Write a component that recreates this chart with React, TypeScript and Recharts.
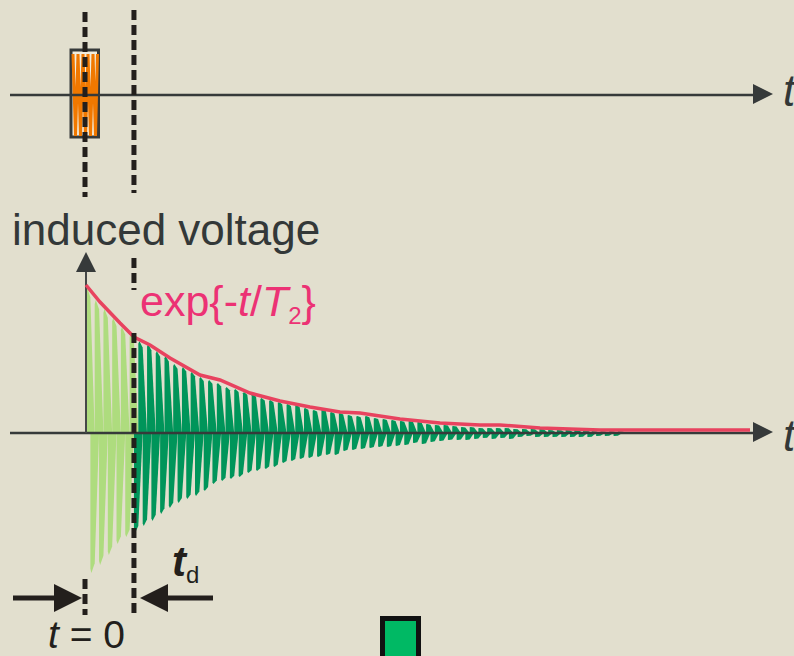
import { ComposedChart, XAxis, YAxis, Bar, Cell, Line, ReferenceLine, ReferenceArea, ReferenceDot } from "recharts";

// time in ms, voltages in arbitrary units
const sampleStep = 0.0436;
const delayIndex = 11; // t_d = 11 samples

// free induction decay, sampled peaks before and after the dead time t_d
const fidBeforeDelay = [146, -140, 133, -132, 124, -122, 115, -111, 106, -104, 99];
const fidAfterDelay = [
  -100, 92, -93, 89, -88, 82, -81, 77, -75, 69, -70, 66, -66, 61, -63, 56, -58, 53, -51, 50, -48,
  46, -46, 44, -44, 41, -40, 39, -38, 35, -36, 33, -34, 31, -30, 29, -28, 28, -26, 25, -25, 23, -24,
  24, -22, 21, -22, 20, -18, 18, -17, 17, -16, 17, -15, 15, -14, 14, -14, 13, -13, 12, -12, 12, -10,
  11, -11, 9, -9, 8, -8, 8, -7, 7, -7, 6, -7, 6, -6, 5, -5, 5, -6, 5, -5, 5, -6, 4, -4, 4, -3, 4, -4,
  4, -4, 3, -4, 3, -4, 3, -4, 3, -4, 3, -4, 2, -3, 2, -3, 2, -3, 2,
];

// exp{-t/T2} envelope
const envelopeTime = [0, 0.14, 0.34, 0.48, 0.64, 0.84, 1.14, 1.34, 1.64, 1.94, 2.24, 2.54, 2.74, 3.14, 3.54, 3.94, 4.14, 4.54, 5.14, 5.64, 6.64];
const envelopeValue = [148, 131, 110, 96, 88, 75, 58, 53, 40, 32, 26, 21, 20, 14, 10, 8, 8, 5, 3, 3, 3];

// RF pulse
const pulseTime = [-0.13, -0.105, -0.08, -0.055, -0.03, -0.005, 0.02, 0.045, 0.07, 0.095, 0.115];
const pulseValue = [41, -41, 41, -41, 41, -41, 41, -41, 41, -41, 41];

const tDelay = delayIndex * sampleStep;

const fidData = [...fidBeforeDelay, ...fidAfterDelay].map((v, i) => ({
  t: i * sampleStep,
  v,
  late: i >= delayIndex,
}));
const envelopeData = envelopeTime.map((t, i) => ({ t, v: envelopeValue[i] }));
const pulseData = pulseTime.map((t, i) => ({ t, v: pulseValue[i] }));

const INK = "#231f1c";
const AXIS = "#363a3a";
const LIGHT = "#aedc7e";
const DARK = "#00955a";
const FONT = "'Liberation Sans', Arial, sans-serif";

// one tooth of the FID, starting at its sample time: vertical left edge, sloping right edge
const Tooth = (props: any) => {
  const { x, y, width, height, fill, payload } = props;
  if (x == null || y == null) return null;
  const w = 8.7;
  const left = x + width / 2;
  const a = Math.min(y, y + height);
  const b = Math.max(y, y + height);
  const h = b - a;
  const up = payload && payload.v > 0;
  const base = up ? b : a;
  const peak = up ? a : b;
  const dir = up ? 1 : -1;
  const pts = [
    [left, base],
    [left, peak + dir * 0.03 * h],
    [left + 0.12 * w, peak],
    [left + 0.5 * w, peak + dir * 0.07 * h],
    [left + w, base],
  ]
    .map((p) => p.join(","))
    .join(" ");
  return <polygon points={pts} fill={fill} />;
};

const arrowHead = (dir: "right" | "left" | "up", w: number, h: number, fill: string) =>
  (props: any) => {
    const { cx, cy } = props;
    let pts = "";
    if (dir === "right") pts = `${cx - w / 2},${cy - h / 2} ${cx + w / 2},${cy} ${cx - w / 2},${cy + h / 2}`;
    if (dir === "left") pts = `${cx + w / 2},${cy - h / 2} ${cx - w / 2},${cy} ${cx + w / 2},${cy + h / 2}`;
    if (dir === "up") pts = `${cx - w / 2},${cy + h / 2} ${cx},${cy - h / 2} ${cx + w / 2},${cy + h / 2}`;
    return <polygon points={pts} fill={fill} />;
  };

export default function App() {
  return (
    <div
      style={{
        position: "fixed",
        left: 0,
        top: 0,
        width: 794,
        height: 656,
        background: "#e2dfce",
        overflow: "hidden",
        fontFamily: FONT,
      }}
    >
      <ComposedChart width={794} height={656} data={fidData} margin={{ top: 0, right: 0, bottom: 0, left: 0 }}>
        <XAxis type="number" dataKey="t" domain={[-0.86, 7.08]} hide allowDataOverflow />
        <YAxis yAxisId="fid" type="number" domain={[-223, 433]} hide allowDataOverflow />
        <YAxis yAxisId="rf" type="number" domain={[-561, 95]} hide allowDataOverflow />

        {/* RF pulse box */}
        <ReferenceArea yAxisId="rf" x1={-0.15} x2={0.125} y1={45} y2={-42} fill="#f1ecdc" fillOpacity={1} stroke={AXIS} strokeWidth={3} />
        <Line yAxisId="rf" data={pulseData} dataKey="v" type="linear" stroke="#f07800" strokeWidth={3} dot={false} activeDot={false} isAnimationActive={false} />

        {/* FID */}
        <Bar yAxisId="fid" dataKey="v" barSize={4} shape={<Tooth />} isAnimationActive={false}>
          {fidData.map((d, i) => (
            <Cell key={i} fill={d.late ? DARK : LIGHT} />
          ))}
        </Bar>

        {/* axes */}
        <ReferenceLine yAxisId="rf" segment={[{ x: -0.76, y: 0 }, { x: 6.7, y: 0 }]} stroke={AXIS} strokeWidth={2.5} />
        <ReferenceDot yAxisId="rf" x={6.77} y={1} r={10} shape={arrowHead("right", 20, 20, AXIS)} />
        <ReferenceLine yAxisId="fid" segment={[{ x: -0.76, y: 0 }, { x: 6.7, y: 0 }]} stroke={AXIS} strokeWidth={2.5} />
        <ReferenceDot yAxisId="fid" x={6.77} y={1} r={10} shape={arrowHead("right", 20, 20, AXIS)} />
        <ReferenceLine yAxisId="fid" segment={[{ x: 0, y: 0 }, { x: 0, y: 163 }]} stroke="#454848" strokeWidth={2} />
        <ReferenceDot yAxisId="fid" x={0} y={171} r={10} shape={arrowHead("up", 20, 20, AXIS)} />

        <Line yAxisId="fid" data={envelopeData} dataKey="v" type="linear" stroke="#e8435f" strokeWidth={3.5} dot={false} activeDot={false} isAnimationActive={false} />

        {/* dashed markers at t = 0 and t = t_d */}
        <ReferenceLine yAxisId="rf" segment={[{ x: -0.01, y: 83 }, { x: -0.01, y: -102 }]} stroke={INK} strokeWidth={5} strokeDasharray="10 5" />
        <ReferenceLine yAxisId="rf" segment={[{ x: tDelay, y: 85 }, { x: tDelay, y: -98 }]} stroke={INK} strokeWidth={5} strokeDasharray="10 5" />
        <ReferenceLine yAxisId="fid" segment={[{ x: tDelay, y: 175 }, { x: tDelay, y: 143 }]} stroke={INK} strokeWidth={5} strokeDasharray="10 5" />
        <ReferenceLine yAxisId="fid" segment={[{ x: tDelay, y: 100 }, { x: tDelay, y: -180 }]} stroke={INK} strokeWidth={5} strokeDasharray="10 5" />
        <ReferenceLine yAxisId="fid" segment={[{ x: -0.01, y: -146 }, { x: -0.01, y: -182 }]} stroke={INK} strokeWidth={5} strokeDasharray="10 5" />

        {/* t_d arrows */}
        <ReferenceLine yAxisId="fid" segment={[{ x: -0.73, y: -165 }, { x: -0.32, y: -165 }]} stroke={INK} strokeWidth={5} />
        <ReferenceDot yAxisId="fid" x={-0.18} y={-165} r={14} shape={arrowHead("right", 28, 28, INK)} />
        <ReferenceLine yAxisId="fid" segment={[{ x: 0.8, y: -165 }, { x: 1.27, y: -165 }]} stroke={INK} strokeWidth={5} />
        <ReferenceDot yAxisId="fid" x={0.68} y={-165} r={14} shape={arrowHead("left", 28, 28, INK)} />
      </ComposedChart>

      <svg width={794} height={656} style={{ position: "absolute", left: 0, top: 0, pointerEvents: "none" }}>
        <text x={12} y={245} fontSize={44} fill="#333838" fontFamily={FONT}>
          induced voltage
        </text>
        <text x={140} y={316} fontSize={43} fill="#ec3274" fontFamily={FONT}>
          exp{"{"}-
          <tspan fontStyle="italic">t</tspan>/
          <tspan fontStyle="italic">T</tspan>
          <tspan fontSize={24} dy={8}>2</tspan>
          <tspan dy={-8}>{"}"}</tspan>
        </text>
        <text x={783} y={106} fontSize={44} fontStyle="italic" fill="#333838" fontFamily={FONT}>
          t
        </text>
        <text x={783} y={451} fontSize={44} fontStyle="italic" fill="#333838" fontFamily={FONT}>
          t
        </text>
        <text x={48} y={648} fontSize={39} fill={INK} fontFamily={FONT}>
          <tspan fontStyle="italic">t</tspan> = 0
        </text>
        <text x={172} y={576} fontSize={42} fill={INK} fontFamily={FONT}>
          <tspan fontStyle="italic" fontWeight="bold">t</tspan>
          <tspan fontSize={24} dy={7}>d</tspan>
        </text>
        <rect x={382.5} y={618.5} width={36} height={42} fill="#00b964" stroke="#111" strokeWidth={5} />
      </svg>
    </div>
  );
}
